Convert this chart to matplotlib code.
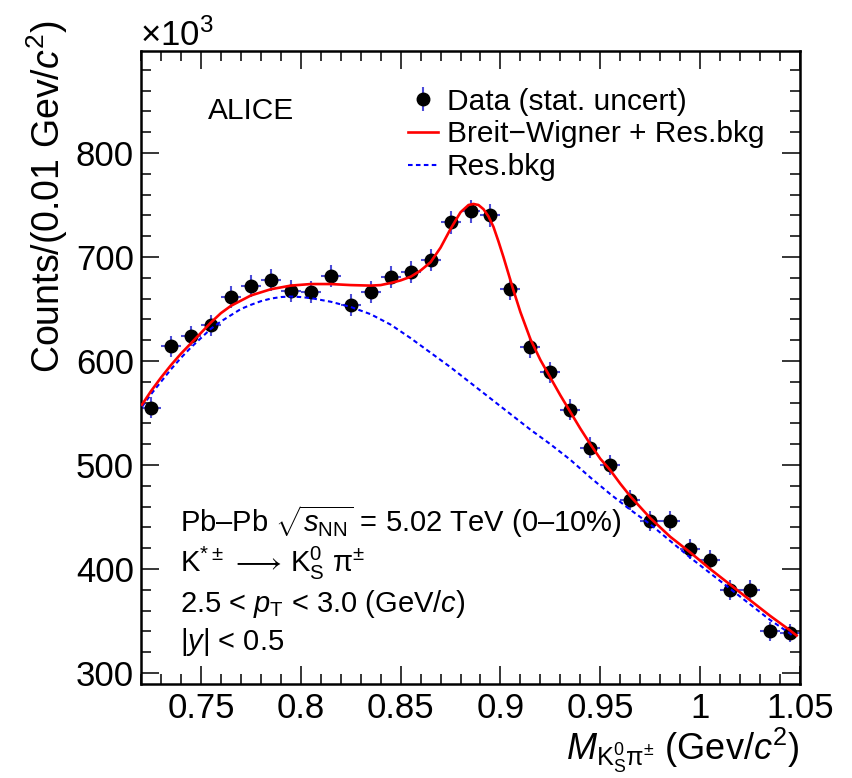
# K*± -> K0S pi± invariant mass, Pb-Pb 5.02 TeV, ALICE style
import matplotlib
matplotlib.use('Agg')
import matplotlib.pyplot as plt
from matplotlib.lines import Line2D
from matplotlib.legend_handler import HandlerTuple
from matplotlib.ticker import MultipleLocator

plt.rcParams['font.family'] = ['Liberation Sans', 'DejaVu Sans']
plt.rcParams['mathtext.fontset'] = 'custom'
plt.rcParams['mathtext.rm'] = 'Liberation Sans'
plt.rcParams['mathtext.it'] = 'Liberation Sans:italic'
plt.rcParams['mathtext.bf'] = 'Liberation Sans:bold'
plt.rcParams['mathtext.sf'] = 'Liberation Sans'

# data points (counts in units of 10^3)
mass = [0.725, 0.735, 0.745, 0.755, 0.765, 0.775, 0.785, 0.795, 0.805, 0.815,
        0.825, 0.835, 0.845, 0.855, 0.865, 0.875, 0.885, 0.895, 0.905, 0.915,
        0.925, 0.935, 0.945, 0.955, 0.965, 0.975, 0.985, 0.995, 1.005, 1.015,
        1.025, 1.035, 1.045]
counts = [555, 614, 624, 634.5, 661.5, 672, 678, 667, 666, 682,
          654, 666, 681, 685.5, 697, 733.5, 744, 740, 669, 613,
          589, 553, 516.5, 500, 466, 446, 446, 419, 408.5, 379.5,
          380, 340, 338.5]
errs = [10, 10, 10, 10, 10.5, 10.5, 10.5, 10.5, 10.5, 10.5,
        10.5, 10.5, 10.5, 10.5, 10.5, 11, 11, 11, 10.5, 10,
        10, 10, 10, 10, 9.5, 9.5, 9.5, 9.5, 9.5, 9.5,
        9.5, 9, 9]
bin_half = 0.005

# Breit-Wigner + residual background fit
fit_x = [0.7205, 0.725, 0.730, 0.735, 0.740, 0.745, 0.750, 0.755, 0.760, 0.765,
         0.770, 0.775, 0.780, 0.785, 0.795, 0.805, 0.815, 0.825, 0.835, 0.840,
         0.845, 0.850, 0.855, 0.860, 0.865, 0.870, 0.875, 0.880, 0.884, 0.8865,
         0.889, 0.8915, 0.894, 0.8965, 0.899, 0.9015, 0.904, 0.9065, 0.910, 0.915,
         0.920, 0.925, 0.930, 0.935, 0.940, 0.945, 0.950, 0.955, 0.960, 0.965,
         0.975, 0.985, 0.995, 1.005, 1.015, 1.025, 1.035, 1.045, 1.0483]
fit_y = [558, 571, 584, 596, 607, 617, 627, 637, 646, 653,
         658, 663, 666, 669, 672.5, 674, 674, 673, 672.5, 673,
         675, 677.5, 681, 687, 695, 709, 727, 743, 750, 751,
         750, 746, 739, 729, 715, 700, 684, 668, 647, 621,
         601, 584, 567, 551, 535, 520, 506, 495, 482, 470,
         449, 431, 416, 400, 385, 370, 355, 341, 336]

# residual background
bkg_x = [0.7205, 0.725, 0.730, 0.735, 0.740, 0.745, 0.750, 0.755, 0.760, 0.765,
         0.770, 0.775, 0.780, 0.785, 0.790, 0.795, 0.800, 0.805, 0.815, 0.825,
         0.835, 0.845, 0.855, 0.865, 0.875, 0.885, 0.895, 0.905, 0.915, 0.925,
         0.935, 0.945, 0.955, 0.965, 0.975, 0.985, 0.995, 1.005, 1.015, 1.025,
         1.035, 1.045, 1.0467]
bkg_y = [556, 568, 580, 592, 603, 613, 622, 631, 638, 644,
         650, 654, 657.5, 660, 661.5, 662, 661.5, 660.5, 657, 652,
         645, 635, 622, 608, 594, 579, 564, 549, 534, 520,
         505, 488, 472, 457, 443, 427, 411, 396, 381, 366,
         351, 338, 335]

x_ticks = [0.75, 0.8, 0.85, 0.9, 0.95, 1.0, 1.05]
x_labels = ['0.75', '0.8', '0.85', '0.9', '0.95', '1', '1.05']
y_ticks = [300, 400, 500, 600, 700, 800]
y_labels = ['300', '400', '500', '600', '700', '800']

fig = plt.figure(figsize=(8.53, 7.78), dpi=100)
ax = fig.add_axes([141/853, 1 - 684/778, 659/853, 633/778])

err_col = (0.3, 0.3, 0.85)
ax.errorbar(mass, counts, xerr=bin_half, yerr=errs, fmt='o', color='black',
            ms=9, ecolor=err_col, elinewidth=1.5, capsize=0, zorder=2)
ax.plot(fit_x, fit_y, color='red', lw=1.9, zorder=4)
ax.plot(bkg_x, bkg_y, color='blue', lw=1.5, ls=(0, (2.2, 1.6)), zorder=3)

ax.set_xlim(0.72, 1.05)
ax.set_ylim(289.4, 898.1)
ax.set_xticks(x_ticks)
ax.set_xticklabels(x_labels)
ax.set_yticks(y_ticks)
ax.set_yticklabels(y_labels)
ax.xaxis.set_minor_locator(MultipleLocator(0.01))
ax.yaxis.set_minor_locator(MultipleLocator(20))
ax.tick_params(which='both', direction='in', top=True, right=True, width=1.1,
               labelsize=25)
ax.tick_params(which='major', length=13)
ax.tick_params(which='minor', length=7)
ax.tick_params(axis='x', pad=6)
ax.tick_params(axis='y', pad=5)
for s in ax.spines.values():
    s.set_linewidth(1.8)

ax.set_xlabel(r'$M_{\mathrm{K^{0}_{S}π^{\pm}}}$ (Gev/$c^{2}$)', fontsize=26,
              loc='right', labelpad=0)
fig.text(47/853, 1 - 20/778, r'Counts/(0.01 Gev/$c^{2}$)', fontsize=27,
         rotation=90, ha='center', va='top')
fig.text(140/853, 1 - 46/778, r'$\times$10$^{3}$', fontsize=25,
         ha='left', va='baseline')

ax.text(0.102, 0.893, 'ALICE', fontsize=21.5, transform=ax.transAxes,
        va='baseline')

lines = [r'Pb–Pb $\sqrt{s_{\mathrm{NN}}}$ = 5.02 TeV (0–10%)',
         r'K$^{*\pm}$$\,\longrightarrow\,$K$^{0}_{\mathrm{S}}$ π$^{\pm}$',
         r'2.5 < $p_{\mathrm{T}}$ < 3.0 (GeV/$c$)',
         r'|$y$| < 0.5']
line_y = [0.240, 0.177, 0.114, 0.054]
for txt, yy in zip(lines, line_y):
    ax.text(0.059, yy, txt, fontsize=21, transform=ax.transAxes, va='baseline')

h_data = (Line2D([], [], marker='|', ms=17, mew=1.5, color=err_col, ls='none'),
          Line2D([], [], marker='o', ms=9, color='black', ls='none'))
h_fit = Line2D([], [], color='red', lw=1.9)
h_bkg = Line2D([], [], color='blue', lw=1.5, ls=(0, (2.2, 1.6)))
ax.legend([h_data, h_fit, h_bkg],
          ['Data (stat. uncert)', 'Breit−Wigner + Res.bkg', 'Res.bkg'],
          handler_map={tuple: HandlerTuple(ndivide=1)},
          loc='upper left', bbox_to_anchor=(0.405, 0.942), frameon=False,
          fontsize=21.5, handlelength=1.0, handletextpad=0.3,
          labelspacing=0.16, borderpad=0, borderaxespad=0)

fig.savefig('out.png', dpi=100)
